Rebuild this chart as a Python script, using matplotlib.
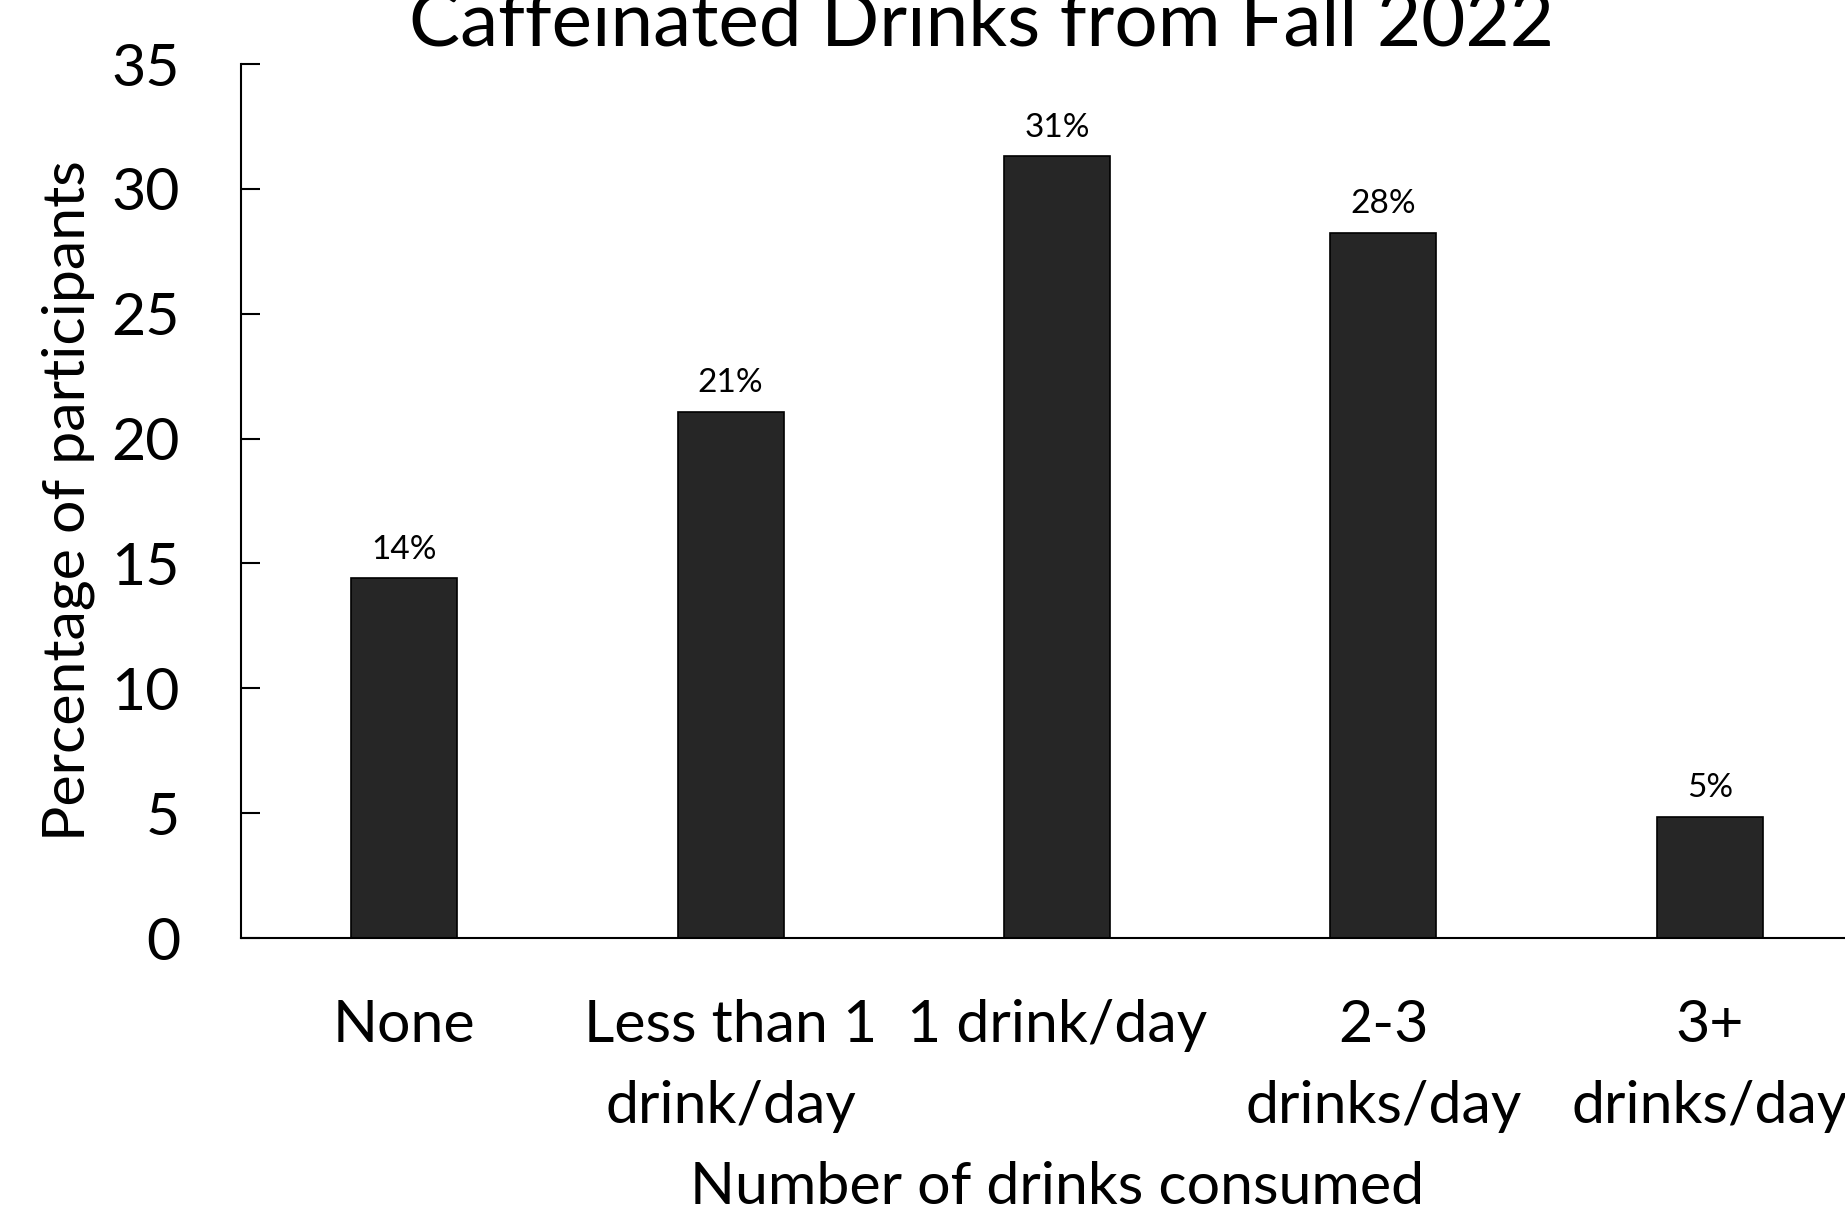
import matplotlib.pyplot as plt
import numpy as np

plt.rcParams['font.family'] = ['Lato', 'DejaVu Sans']

categories = ["None", "Less than 1\ndrink/day", "1 drink/day", "2-3\ndrinks/day", "3+\ndrinks/day"]
percentages = [14.4, 21.05, 31.3, 28.25, 4.85]
bar_labels = ["14%", "21%", "31%", "28%", "5%"]
yticks = [0, 5, 10, 15, 20, 25, 30, 35]

W, H = 1845, 1213
fig = plt.figure(figsize=(W / 100, H / 100), dpi=100)
# axes runs a bit past the right edge of the figure
ax = fig.add_axes([241 / W, 1 - 938 / H, (1873 - 241) / W, 874 / H])

x = np.arange(len(categories))
bars = ax.bar(x, percentages, width=0.325, color="#262626", edgecolor="black", linewidth=1.2)

for rect, lab in zip(bars, bar_labels):
    ax.annotate(lab, (rect.get_x() + rect.get_width() / 2, rect.get_height()),
                xytext=(0, 10), textcoords="offset points",
                ha="center", va="bottom", fontsize=24)

ax.set_xlim(-0.5, 4.5)
ax.set_ylim(0, 35)
ax.set_yticks(yticks)
ax.set_xticks(x)
ax.set_xticklabels(categories, linespacing=1.65)

for s in ["top", "right"]:
    ax.spines[s].set_visible(False)
for s in ["left", "bottom"]:
    ax.spines[s].set_linewidth(1.5)

ax.tick_params(axis="y", direction="in", length=14, width=1.5, pad=44, labelsize=42.5)
ax.tick_params(axis="x", length=0, pad=44, labelsize=42.5)

ax.set_ylabel("Percentage of participants", fontsize=42.5, labelpad=12)
ax.set_xlabel("Number of drinks consumed", fontsize=42.5, labelpad=20)

fig.text(0.532, 1 - 45 / H, "Caffeinated Drinks from Fall 2022", ha="center", va="baseline", fontsize=55)

fig.savefig("out.png", dpi=100)
